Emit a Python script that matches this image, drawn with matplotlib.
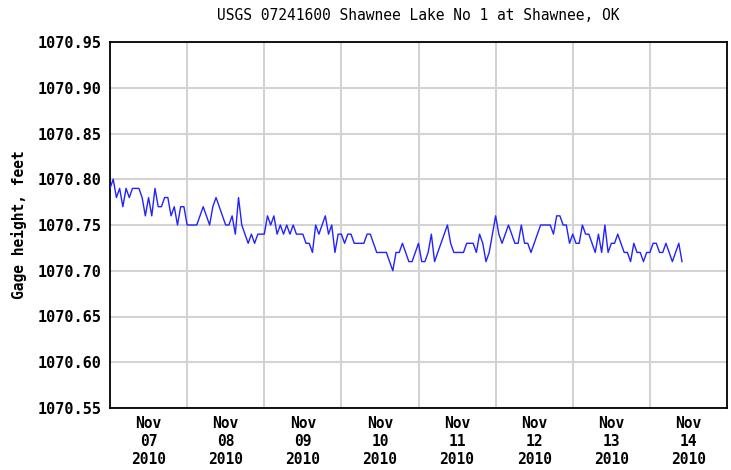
import numpy as np
import pandas as pd
import matplotlib
matplotlib.use('Agg')
import matplotlib.pyplot as plt
import matplotlib.dates as mdates

# hourly gage height readings (feet), starting Nov 07 2010 00:00
gage_height = [
    # Nov 07
    1070.79, 1070.80, 1070.78, 1070.79, 1070.77, 1070.79, 1070.78, 1070.79,
    1070.79, 1070.79, 1070.78, 1070.76, 1070.78, 1070.76, 1070.79, 1070.77,
    1070.77, 1070.78, 1070.78, 1070.76, 1070.77, 1070.75, 1070.77, 1070.77,
    # Nov 08
    1070.75, 1070.75, 1070.75, 1070.75, 1070.76, 1070.77, 1070.76, 1070.75,
    1070.77, 1070.78, 1070.77, 1070.76, 1070.75, 1070.75, 1070.76, 1070.74,
    1070.78, 1070.75, 1070.74, 1070.73, 1070.74, 1070.73, 1070.74, 1070.74,
    # Nov 09
    1070.74, 1070.76, 1070.75, 1070.76, 1070.74, 1070.75, 1070.74, 1070.75,
    1070.74, 1070.75, 1070.74, 1070.74, 1070.74, 1070.73, 1070.73, 1070.72,
    1070.75, 1070.74, 1070.75, 1070.76, 1070.74, 1070.75, 1070.72, 1070.74,
    # Nov 10
    1070.74, 1070.73, 1070.74, 1070.74, 1070.73, 1070.73, 1070.73, 1070.73,
    1070.74, 1070.74, 1070.73, 1070.72, 1070.72, 1070.72, 1070.72, 1070.71,
    1070.70, 1070.72, 1070.72, 1070.73, 1070.72, 1070.71, 1070.71, 1070.72,
    # Nov 11
    1070.73, 1070.71, 1070.71, 1070.72, 1070.74, 1070.71, 1070.72, 1070.73,
    1070.74, 1070.75, 1070.73, 1070.72, 1070.72, 1070.72, 1070.72, 1070.73,
    1070.73, 1070.73, 1070.72, 1070.74, 1070.73, 1070.71, 1070.72, 1070.74,
    # Nov 12
    1070.76, 1070.74, 1070.73, 1070.74, 1070.75, 1070.74, 1070.73, 1070.73,
    1070.75, 1070.73, 1070.73, 1070.72, 1070.73, 1070.74, 1070.75, 1070.75,
    1070.75, 1070.75, 1070.74, 1070.76, 1070.76, 1070.75, 1070.75, 1070.73,
    # Nov 13
    1070.74, 1070.73, 1070.73, 1070.75, 1070.74, 1070.74, 1070.73, 1070.72,
    1070.74, 1070.72, 1070.75, 1070.72, 1070.73, 1070.73, 1070.74, 1070.73,
    1070.72, 1070.72, 1070.71, 1070.73, 1070.72, 1070.72, 1070.71, 1070.72,
    # Nov 14
    1070.72, 1070.73, 1070.73, 1070.72, 1070.72, 1070.73, 1070.72, 1070.71,
    1070.72, 1070.73, 1070.71,
]

start_time = '2010-11-07 00:00'
day_labels = ['Nov\n07\n2010', 'Nov\n08\n2010', 'Nov\n09\n2010', 'Nov\n10\n2010',
              'Nov\n11\n2010', 'Nov\n12\n2010', 'Nov\n13\n2010', 'Nov\n14\n2010']
y_ticks = [1070.55, 1070.60, 1070.65, 1070.70, 1070.75, 1070.80, 1070.85, 1070.90, 1070.95]

times = pd.date_range(start_time, periods=len(gage_height), freq='h')
days = pd.date_range(start_time, periods=len(day_labels) + 1, freq='D')

fig = plt.figure(figsize=(7.31, 4.70), dpi=100)
ax = fig.add_axes([110 / 731, 1 - 408 / 470, 617 / 731, 366 / 470])

ax.plot(times, gage_height, color='#2222ff', lw=1.0, zorder=3)

ax.set_xlim(days[0], days[-1])
ax.set_ylim(y_ticks[0], y_ticks[-1])

# labels at noon, grid at midnight
ax.set_xticks(days[:-1] + pd.Timedelta(hours=12))
ax.set_xticklabels(day_labels, fontfamily='DejaVu Sans Mono', fontweight='bold',
                   fontsize=10.5, linespacing=1.22)
ax.set_xticks(days[1:-1], minor=True)
ax.set_yticks(y_ticks)
ax.set_yticklabels([f'{v:.2f}' for v in y_ticks], fontfamily='DejaVu Sans Mono',
                   fontweight='bold', fontsize=11)

ax.tick_params(axis='both', which='both', length=0)
ax.tick_params(axis='x', pad=6)
ax.tick_params(axis='y', pad=6)
ax.grid(True, which='minor', axis='x', color='#d3d3d3', lw=1.5)
ax.grid(True, which='major', axis='y', color='#d3d3d3', lw=1.5)
ax.set_axisbelow(True)
for s in ax.spines.values():
    s.set_linewidth(1.3)
    s.set_color('black')

ax.set_ylabel('Gage height, feet', fontfamily='DejaVu Sans Mono', fontweight='bold',
              fontsize=10.5, labelpad=8)
fig.text((110 + 727) / 2 / 731, 1 - 16 / 470,
         'USGS 07241600 Shawnee Lake No 1 at Shawnee, OK',
         ha='center', va='center', fontfamily='DejaVu Sans Mono', fontsize=10.5)

fig.savefig('out.png', dpi=100)
